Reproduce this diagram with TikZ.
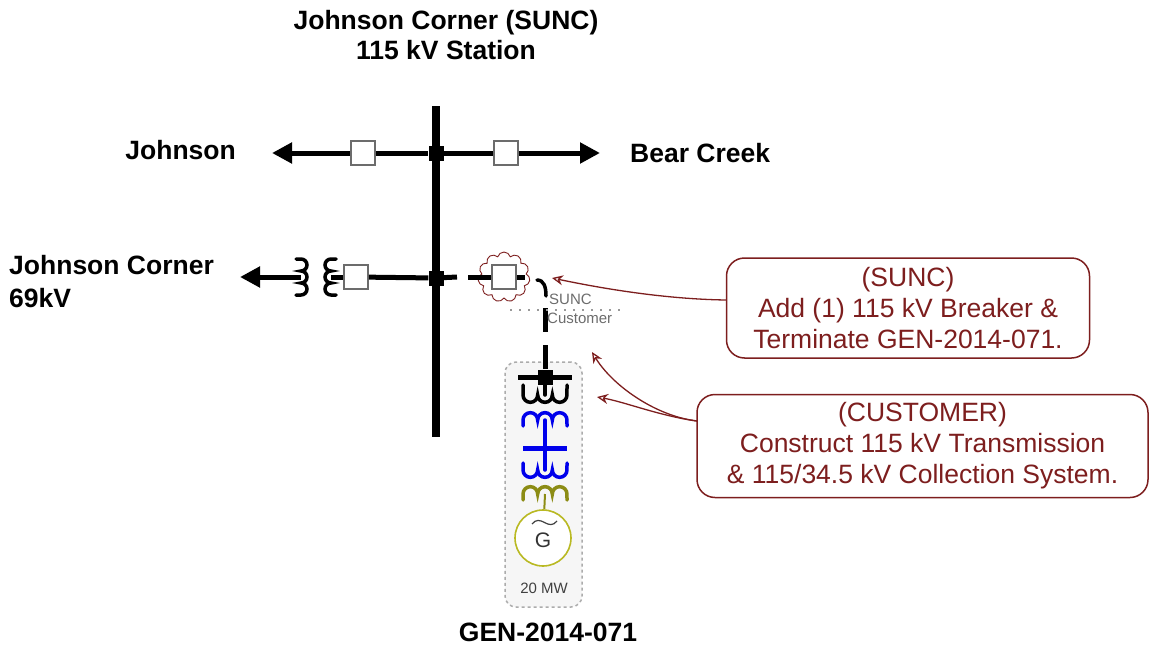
\documentclass[tikz,border=0pt]{standalone}
\usepackage{fontspec}
\setmainfont{Liberation Sans}
\usetikzlibrary{shapes, shapes.symbols, arrows.meta, positioning, calc}
\definecolor{sppred}{RGB}{125,30,30}
\definecolor{sppblue}{RGB}{0,0,235}
\definecolor{sppolive}{RGB}{140,140,20}
\definecolor{sppgold}{RGB}{185,185,35}

\begin{document}
\begin{tikzpicture}[x=1pt, y=-1pt,
  lbl/.style={font=\fontsize{26.5}{30}\selectfont\bfseries, align=center, inner sep=0pt},
  brk/.style={draw=gray!85!black, line width=1.6pt, fill=white, minimum size=24pt, inner sep=0pt},
  jdot/.style={fill=black, minimum size=15pt, inner sep=0pt},
  bus/.style={line width=8pt},
  feed/.style={line width=5pt},
  tip/.style={-{Triangle[length=20pt,width=20pt]}},
  coil/.style={line width=3.5pt, line cap=round},
  tag/.style={font=\fontsize{15}{15}\selectfont, text=gray!85!black, inner sep=0pt},
  callout/.style={draw=sppred, line width=1.5pt, rounded corners=18pt, fill=white, text=sppred, font=\fontsize{26.5}{31}\selectfont, align=center, inner sep=0pt},
  note/.style={draw=sppred, line width=1.3pt, -{Stealth[length=11pt,width=10pt,open]}}
]
  \useasboundingbox (0,0) rectangle (1151,645);

  % station bus and lines
  \node[lbl] (station) at (446,35) {Johnson Corner (SUNC)\\115 kV Station};
  \coordinate (busTop) at (436,106);
  \coordinate (busBot) at (436,437);
  \draw[bus] (busTop) -- (busBot);

  \node[jdot] (dotTop) at (436,153) {};
  \node[brk] (brkJ) at (363,153) {};
  \node[brk] (brkB) at (506,153) {};
  \coordinate (endJ) at (272,153);
  \coordinate (endB) at (600,153);
  \draw[feed, tip] (brkJ) -- (endJ);
  \draw[feed] (brkJ) -- (dotTop) -- (brkB);
  \draw[feed, tip] (brkB) -- (endB);
  \node[lbl, anchor=east] (johnson) at (236,150) {Johnson};
  \node[lbl, anchor=west] (bearcreek) at (630,153) {Bear Creek};

  % 69 kV transformer
  \node[jdot] (dotMid) at (436,278) {};
  \node[brk] (brkT) at (356,277) {};
  \coordinate (endJC) at (240,277);
  \coordinate (xfL) at (301,277);
  \coordinate (xfR) at (331,277);
  \draw[coil] (296,259) -- (301,259) arc[start angle=-90, end angle=90, radius=6]
    arc[start angle=-90, end angle=90, radius=6] arc[start angle=-90, end angle=90, radius=6] -- (296,295);
  \draw[coil] (336,259) -- (331,259) arc[start angle=-90, end angle=-270, radius=6]
    arc[start angle=-90, end angle=-270, radius=6] arc[start angle=-90, end angle=-270, radius=6] -- (336,295);
  \draw[feed, tip] (xfL) -- (endJC);
  \draw[feed] (xfR) -- (brkT);
  \draw[feed] (brkT) -- (dotMid);
  \node[lbl, align=left, anchor=west, font=\fontsize{26.5}{33}\selectfont\bfseries] (jc69) at (9,282) {Johnson Corner\\69kV};

  % new breaker position
  \coordinate (gapL) at (457,277);
  \coordinate (gapR) at (468,277);
  \coordinate (brkNr) at (525,277);
  \draw[feed] (dotMid) -- (gapL);
  \node[cloud, cloud puffs=11, aspect=1, draw=sppred, line width=0.9pt, minimum width=52pt, minimum height=50pt] (cloudN) at (504,277) {};
  \node[brk] (brkN) at (504,277) {};
  \draw[feed] (gapR) -- (brkN);
  \draw[feed] (brkN) -- (brkNr);
  \coordinate (swA) at (537,280);
  \coordinate (swB) at (546,296);
  \draw[coil] (swA) .. controls (544,280) and (546,287) .. (swB);

  % ownership split
  \coordinate (tapA) at (545,308);
  \coordinate (tapB) at (545,332);
  \coordinate (tapC) at (545,345);
  \draw[feed] (tapA) -- (tapB);
  \draw[gray!80, line width=2pt, dash pattern=on 2pt off 7pt] (510,310) -- (622,310);
  \node[tag, anchor=west] (sunc) at (549,299) {SUNC};
  \node[tag, anchor=west] (customer) at (547,318) {Customer};

  % generator facility
  \node[draw=gray!65, dashed, line width=1.5pt, fill=gray!7, rounded corners=11pt, minimum width=77pt, minimum height=245pt] (genbox) at (543.5,484.5) {};
  \node[jdot] (dotGen) at (545,377) {};
  \draw[feed] (tapC) -- (dotGen);
  \coordinate (gbL) at (518,377);
  \coordinate (gbR) at (572,377);
  \draw[feed] (gbL) -- (gbR);
  \draw[coil] (545,377) -- (545,395);
  \draw[coil] (523,385) -- (523,395) arc[start angle=180, end angle=0, radius=7.33]
    arc[start angle=180, end angle=0, radius=7.33] arc[start angle=180, end angle=0, radius=7.33] -- (567,385);
  \begin{scope}[draw=sppblue]
    \draw[coil, sppblue] (523,426) -- (523,420) arc[start angle=180, end angle=360, radius=7.33]
      arc[start angle=180, end angle=360, radius=7.33] arc[start angle=180, end angle=360, radius=7.33] -- (567,426);
    \draw[coil, sppblue] (545,420) -- (545,470);
    \draw[feed, sppblue] (523,448) -- (567,448);
    \draw[coil, sppblue] (523,463) -- (523,470) arc[start angle=180, end angle=0, radius=7.33]
      arc[start angle=180, end angle=0, radius=7.33] arc[start angle=180, end angle=0, radius=7.33] -- (567,463);
  \end{scope}
  \draw[coil, sppolive] (523,500) -- (523,494) arc[start angle=180, end angle=360, radius=7.33]
    arc[start angle=180, end angle=360, radius=7.33] arc[start angle=180, end angle=360, radius=7.33] -- (567,500);
  \node[circle, draw=sppgold, line width=1.6pt, fill=white, minimum size=56pt, inner sep=0pt] (gen) at (543,538) {};
  \draw[sppolive, line width=2pt] (545,494) -- (gen);
  \node[font=\fontsize{21}{21}\selectfont, text=black!80] (genG) at (543,540) {G};
  \draw[black!75, line width=1.2pt] (532,524) .. controls (536,519) and (540,520) .. (544.5,522.5)
    .. controls (549,525) and (553,526) .. (557,521);
  \node[tag, text=black!75] (mw) at (544,588) {20 MW};
  \node[lbl] (genname) at (548,632) {GEN-2014-071};

  % callouts
  \node[callout, minimum width=363pt, minimum height=100pt] (noteSunc) at (908,308)
    {(SUNC)\\Add (1) 115 kV Breaker \&\\Terminate GEN-2014-071.};
  \node[callout, minimum width=451pt, minimum height=103pt] (noteCust) at (922.5,446)
    {(CUSTOMER)\\Construct 115 kV Transmission\\\& 115/34.5 kV Collection System.};
  \coordinate (tipSw) at (552,278);
  \coordinate (tipLine) at (592,352);
  \coordinate (tipGen) at (597,397);
  \coordinate (custFoot) at (697,421);
  \draw[note] ([yshift=8pt]noteSunc.west) .. controls (660,299) and (595,287) .. (tipSw);
  \draw[note] (custFoot) .. controls (655,416) and (612,385) .. (tipLine);
  \draw[note] (custFoot) .. controls (660,416) and (625,402) .. (tipGen);
\end{tikzpicture}
\end{document}
